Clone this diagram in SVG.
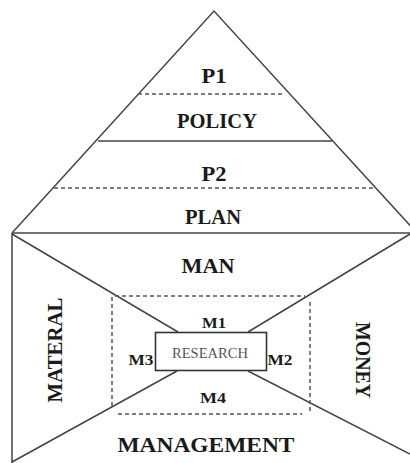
<svg xmlns="http://www.w3.org/2000/svg" width="410" height="463" viewBox="0 0 410 463">
<style>
.ln{stroke:#444;stroke-width:1.5;fill:none}
.ds{stroke:#555;stroke-width:1.5;stroke-dasharray:4 3;fill:none}
.t{font-family:"Liberation Serif","Times New Roman",serif;font-weight:bold;fill:#1a1a1a;text-anchor:middle}
.big{font-size:20px}
.sm{font-size:14px}
.rs{font-family:"Liberation Serif","Times New Roman",serif;font-size:14px;fill:#555;text-anchor:middle}
</style>
<rect width="410" height="463" fill="#fff"/>
<g id="connectors">
<polyline class="ln" points="12,233 214,11 417,233"/>
<line class="ln" x1="12" y1="233" x2="410" y2="233" stroke-width="2"/>
<line class="ln" x1="12" y1="233" x2="12" y2="463"/>
<line class="ln" x1="98" y1="141" x2="332" y2="141"/>
<line class="ds" x1="138" y1="94" x2="284" y2="94"/>
<line class="ds" x1="54" y1="188" x2="375" y2="188"/>
<line class="ln" x1="12" y1="234" x2="178" y2="332"/>
<line class="ln" x1="410" y1="234" x2="248" y2="332"/>
<line class="ln" x1="177" y1="371" x2="12" y2="462"/>
<line class="ln" x1="248" y1="371" x2="410" y2="454"/>
<line class="ds" x1="115" y1="296" x2="305" y2="296"/>
<line class="ds" x1="112" y1="297" x2="112" y2="408"/>
<line class="ds" x1="310" y1="302" x2="310" y2="411"/>
<line class="ds" x1="118" y1="414" x2="302" y2="414"/>
</g>
<g id="p1"><text class="t big" x="214" y="83" textLength="25" lengthAdjust="spacingAndGlyphs">P1</text></g>
<g id="policy"><text class="t big" x="217" y="128" textLength="80" lengthAdjust="spacingAndGlyphs">POLICY</text></g>
<g id="p2"><text class="t big" x="214" y="181" textLength="25" lengthAdjust="spacingAndGlyphs">P2</text></g>
<g id="plan"><text class="t big" x="213" y="224" textLength="56" lengthAdjust="spacingAndGlyphs">PLAN</text></g>
<g id="man"><text class="t big" x="208" y="273" textLength="53" lengthAdjust="spacingAndGlyphs">MAN</text></g>
<g id="materal"><text class="t big" transform="translate(62,350) rotate(-90)" x="0" y="0" textLength="105" lengthAdjust="spacingAndGlyphs">MATERAL</text></g>
<g id="money"><text class="t big" transform="translate(356,360) rotate(90)" x="0" y="0" textLength="76" lengthAdjust="spacingAndGlyphs">MONEY</text></g>
<g id="management"><text class="t big" x="206" y="452" textLength="177" lengthAdjust="spacingAndGlyphs">MANAGEMENT</text></g>
<g id="research">
<rect x="155.500" y="332.500" width="111" height="38" fill="#fff" stroke="#333" stroke-width="1.6"/>
<text class="rs" x="210" y="358" textLength="76" lengthAdjust="spacingAndGlyphs">RESEARCH</text>
</g>
<g id="m1"><text class="t sm" x="214" y="328" textLength="24" lengthAdjust="spacingAndGlyphs">M1</text></g>
<g id="m2"><text class="t sm" x="280" y="365" textLength="25" lengthAdjust="spacingAndGlyphs">M2</text></g>
<g id="m3"><text class="t sm" x="141" y="365" textLength="25" lengthAdjust="spacingAndGlyphs">M3</text></g>
<g id="m4"><text class="t sm" x="213" y="403" textLength="26" lengthAdjust="spacingAndGlyphs">M4</text></g>
</svg>
